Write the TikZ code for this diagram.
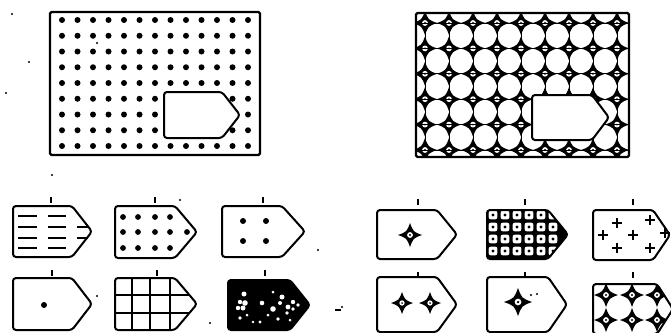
\documentclass[tikz,border=0pt]{standalone}
\usepackage{tikz}
\newcommand\tagpath[5]{(#1,#2) -- (#5,#2) -- (#3,{(#2+#4)/2}) -- (#5,#4) -- (#1,#4) -- cycle}
\newcommand\fourstar[3]{%
  \fill (#1+#3,#2) .. controls (#1+0.27*#3,#2+0.27*#3) .. (#1,#2+#3)
     .. controls (#1-0.27*#3,#2+0.27*#3) .. (#1-#3,#2)
     .. controls (#1-0.27*#3,#2-0.27*#3) .. (#1,#2-#3)
     .. controls (#1+0.27*#3,#2-0.27*#3) .. cycle;
  \fill[white] (#1,#2) circle[radius=0.24*#3 pt];
  \fill (#1,#2) circle[radius=0.09*#3 pt];}
\tikzset{
  tagbox/.style={line width=2pt, rounded corners=3pt, line join=round},
  bigbox/.style={line width=2.2pt, rounded corners=1.5pt},
  tickmark/.style={line width=1.8pt},
  dashline/.style={line width=2.2pt},
  crossmark/.style={line width=1.8pt},
  speck/.style={fill=black}
}
\begin{document}
\begin{tikzpicture}[x=1pt,y=-1pt]
\useasboundingbox (0,0) rectangle (671,332);
\fill[white] (0,0) rectangle (671,332);

% ---------- big left rectangle ----------
\foreach \i in {0,...,12}{
  \foreach \j in {0,...,8}{
    \fill (62+15.5*\i,20+15.75*\j) circle[radius=3pt];
  }}
\draw[bigbox] (50,12) rectangle (260,155);
\filldraw[tagbox,fill=white] \tagpath{164}{92}{240}{138}{222};

% ---------- big right rectangle ----------
\begin{scope}
  \clip (416,13) rectangle (629,157);
  \foreach \i in {0,...,8}{
    \draw[line width=1pt] (425+24*\i,13) -- (425+24*\i,157);
    \foreach \j in {0,...,5}{
      \fourstar{425+24*\i}{23+25.4*\j}{12}
    }}
  \foreach \j in {0,...,5}{
    \draw[line width=1pt] (416,23+25.4*\j) -- (629,23+25.4*\j);}
\end{scope}
\draw[bigbox] (416,13) rectangle (629,157);
\filldraw[tagbox,fill=white] \tagpath{532}{95}{609}{140}{592};

% ---------- small left tags ----------
% L1 dashes
\draw[tagbox] \tagpath{13}{206}{92}{257}{72};
\foreach \y in {216,227,238,248}{
  \draw[dashline] (18,\y) -- (37,\y);
  \draw[dashline] (48,\y) -- (66,\y);}
\draw[dashline] (77,227) -- (88,227);
\draw[dashline] (77,238) -- (88,238);
% L2 dots
\draw[tagbox] \tagpath{115}{206}{197}{258}{175};
\foreach \x in {123,138,155,170}{
  \fill (\x,217) circle[radius=2.9pt];
  \fill (\x,248) circle[radius=2.9pt];}
\foreach \x in {123,138,155,170,187}{
  \fill (\x,232) circle[radius=2.9pt];}
% L3 four dots
\draw[tagbox] \tagpath{222}{206}{305}{257}{282};
\foreach \x in {243,266}{
  \fill (\x,221) circle[radius=3pt];
  \fill (\x,241) circle[radius=3pt];}
% L4 single dot
\draw[tagbox] \tagpath{13}{278}{92}{330}{72};
\fill (44,305) circle[radius=3pt];
% L5 grid
\begin{scope}
  \clip \tagpath{115}{278}{197}{330}{175};
  \foreach \x in {132,150,170}{\draw[line width=2pt] (\x,278) -- (\x,330);}
  \foreach \y in {295,313}{\draw[line width=2pt] (115,\y) -- (197,\y);}
\end{scope}
\draw[tagbox] \tagpath{115}{278}{197}{330}{175};
% L6 black with white spots
\filldraw[tagbox,fill=black] \tagpath{228}{280}{310}{330}{290};
\foreach \x/\y/\r in {244/294/2.5, 240/302/2.2, 245/303/2.8, 238/308/2.2, 243/308/2.5,
  262/303/2.3, 273/309/2.8, 282/297/2.5, 280/303/2, 288/307/2.4, 293/309/1.8,
  293/302/2.2, 298/305/1.8, 287/313/1.8, 278/319/1.8, 260/322/1.6, 253/322/1.4,
  240/318/1.8, 247/315/1.5, 273/292/1.5, 290/320/1.5, 268/315/1.5}{
  \fill[white] (\x,\y) circle[radius=\r pt];}

% ---------- small right tags ----------
% R1 one star
\draw[tagbox] \tagpath{377}{210}{457}{259}{437};
\fourstar{410}{235}{12}
% R2 cell pattern
\begin{scope}
  \clip \tagpath{487}{210}{568}{259}{548};
  \fill (487,210) rectangle (568,259);
  \foreach \i in {0,...,5}{
    \foreach \j in {0,...,3}{
      \fill[white,rounded corners=2pt] (493+12*\i-4.3,215+12*\j-4.3) rectangle (493+12*\i+4.3,215+12*\j+4.3);
      \fill (493+12*\i,215+12*\j) circle[radius=1.6pt];
    }}
\end{scope}
\draw[tagbox] \tagpath{487}{210}{568}{259}{548};
% R3 crosses
\draw[tagbox] \tagpath{593}{210}{670}{260}{653};
\foreach \x/\y in {617/223, 650/220, 603/235, 633/235, 665/233, 617/248, 650/248}{
  \draw[crossmark] (\x-5,\y) -- (\x+5,\y) (\x,\y-5) -- (\x,\y+5);}
% R4 two stars
\draw[tagbox] \tagpath{377}{277}{457}{332}{437};
\fourstar{402}{303}{11}
\fourstar{430}{303}{11}
% R5 one larger star
\draw[tagbox] \tagpath{487}{277}{567}{332}{548};
\fourstar{518}{302}{14}
\fill (531,295) circle[radius=1.2pt];
\fill (537,294) circle[radius=1.2pt];
% R6 star pattern
\begin{scope}
  \clip \tagpath{593}{284}{673}{334}{657};
  \foreach \x in {606,632,657}{
    \fourstar{\x}{295}{12}
    \fourstar{\x}{320}{12}}
\end{scope}
\draw[tagbox] \tagpath{593}{284}{673}{334}{657};

% ---------- ticks ----------
\foreach \x in {51,155,263}{\draw[tickmark] (\x,197) -- (\x,203);}
\foreach \x in {52,157,265}{\draw[tickmark] (\x,270) -- (\x,276);}
\foreach \x in {418,525,633}{\draw[tickmark] (\x,199) -- (\x,205);}
\foreach \x in {418,525,633}{\draw[tickmark] (\x,272) -- (\x,278);}

% ---------- specks ----------
\foreach \x/\y in {12/14, 29/62, 6/93, 97/43, 180/200, 97/296, 210/323, 318/250, 342/307, 52/175}{
  \fill[speck] (\x,\y) circle[radius=1.1pt];}
\draw[line width=1.4pt] (335,310) -- (341,310);
\end{tikzpicture}
\end{document}
